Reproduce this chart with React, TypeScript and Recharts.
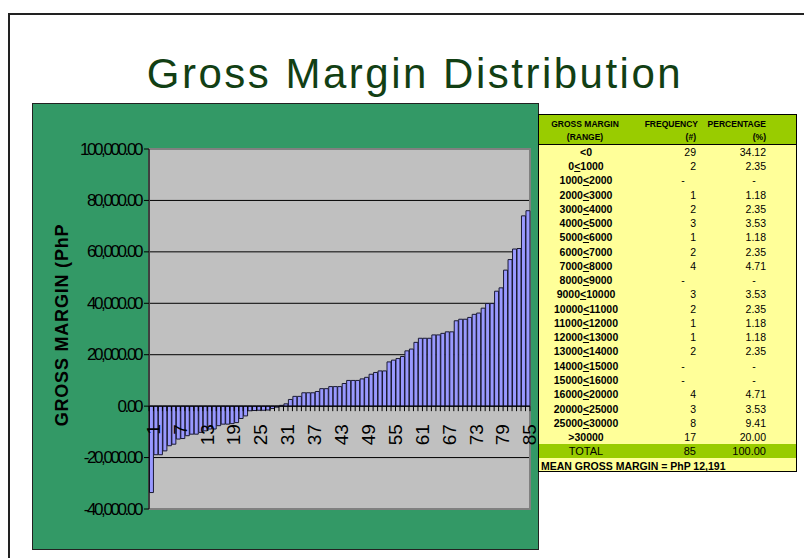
import {
  BarChart, Bar, XAxis, YAxis, CartesianGrid,
  ReferenceLine, ReferenceArea,
} from 'recharts'

// gross margin per farm (PhP), sorted ascending
const GM_VALUES = [
  -33600, -18900, -18900, -17400, -15400, -14800, -12800, -12600, -11500, -10900,
  -10900, -10200, -9600, -8900, -8900, -7600, -7000, -7000, -6800, -6400,
  -4800, -3800, -1800, -1700, -1600, -1600, -1500, -900, -400, 300,
  900, 2600, 3800, 3800, 5200, 5200, 5200, 5700, 6800, 6800,
  7600, 7600, 7600, 8800, 10000, 10000, 10000, 10600, 11200, 12400,
  13100, 13700, 13700, 17200, 17900, 18500, 19300, 21500, 22200, 24800,
  26400, 26400, 26400, 27700, 27700, 28300, 28900, 28900, 33200, 33800,
  33800, 34500, 35700, 36200, 38100, 39900, 39900, 44700, 46000, 52900,
  57000, 61100, 61300, 74000, 76000,
]
const FARMS = GM_VALUES.map((_, i) => i + 1)
const Y_TICKS = [-40000, -20000, 0, 20000, 40000, 60000, 80000, 100000]
const GRID_VALUES = [-20000, 0, 20000, 40000, 60000, 80000]
const X_LABEL_STEP = 6

const RANGES = [
  '<0', '0≤1000', '1000≤2000', '2000≤3000', '3000≤4000', '4000≤5000',
  '5000≤6000', '6000≤7000', '7000≤8000', '8000≤9000', '9000≤10000',
  '10000≤11000', '11000≤12000', '12000≤13000', '13000≤14000', '14000≤15000',
  '15000≤16000', '16000≤20000', '20000≤25000', '25000≤30000', '>30000',
]
const FREQ = [29, 2, null, 1, 2, 3, 1, 2, 4, null, 3, 2, 1, 1, 2, null, null, 4, 3, 8, 17]
const PCT = ['34.12', '2.35', null, '1.18', '2.35', '3.53', '1.18', '2.35', '4.71', null,
  '3.53', '2.35', '1.18', '1.18', '2.35', null, null, '4.71', '3.53', '9.41', '20.00']
const TOTAL_FREQ = '85'
const TOTAL_PCT = '100.00'
const MEAN_TEXT = 'MEAN GROSS MARGIN = PhP 12,191'

const BLUE = '#9999FF'
const GREEN = '#339966'
const PLOT_GRAY = '#C0C0C0'
const HEAD_GREEN = '#99CC00'
const PALE_YELLOW = '#FFFF99'
const FONT = '"Liberation Sans", Arial, sans-serif'

const CHART_W = 505
const CHART_H = 445
const MARGIN = { top: 45, right: 8, bottom: 10, left: 0 }
const X_AXIS_H = 30
const Y_AXIS_W = 116
const Y_MIN = -40000
const Y_MAX = 100000
const PLOT_W = CHART_W - MARGIN.left - MARGIN.right - Y_AXIS_W
const PLOT_H = CHART_H - MARGIN.top - MARGIN.bottom - X_AXIS_H
const ZERO_Y = MARGIN.top + PLOT_H * Y_MAX / (Y_MAX - Y_MIN)

const data = FARMS.map((farm, i) => ({ farm, gm: GM_VALUES[i] }))

const fmt = (v: number) => v.toLocaleString('en-US', { minimumFractionDigits: 2 })

function YTick({ x, y, payload }: any) {
  return (
    <text x={x} y={y} textAnchor="end" dominantBaseline="central"
      fontSize={17} fontFamily={FONT} fill="#000" letterSpacing={-2.4}>
      {fmt(payload.value)}
    </text>
  )
}

function XTick({ x, payload }: any) {
  const band = PLOT_W / FARMS.length
  const ty = ZERO_Y + 18
  const isLast = payload.value === FARMS[FARMS.length - 1]
  const showLabel = (payload.value - 1) % X_LABEL_STEP === 0
  return (
    <g>
      <line x1={x - band / 2} x2={x - band / 2} y1={ZERO_Y} y2={ZERO_Y + 5} stroke="#000" />
      {isLast && (
        <line x1={x + band / 2} x2={x + band / 2} y1={ZERO_Y} y2={ZERO_Y + 5} stroke="#000" />
      )}
      {showLabel && (
        <text x={x} y={ty} transform={`rotate(-90 ${x} ${ty})`} textAnchor="end"
          dy="0.45em" fontSize={19} fontFamily={FONT} fill="#000">
          {payload.value}
        </text>
      )}
    </g>
  )
}

function YTitle() {
  const cx = 29
  const cy = MARGIN.top + PLOT_H / 2 - 4
  return (
    <text x={cx} y={cy} transform={`rotate(-90 ${cx} ${cy})`} textAnchor="middle"
      dominantBaseline="central" fontSize={18} fontWeight="bold" fontFamily={FONT}
      letterSpacing={0.8} fill="#000">
      GROSS MARGIN (PhP
    </text>
  )
}

function RangeLabel({ text }: { text: string }) {
  const parts = text.split('≤')
  if (parts.length === 1) return <>{text}</>
  return <>{parts[0]}<span style={{ textDecoration: 'underline' }}>{'<'}</span>{parts[1]}</>
}

const TABLE_LEFT = 538
const TABLE_TOP = 114
const TABLE_W = 259
const TABLE_H = 358
const ROW0 = 36.7
const ROW_STEP = 14.27

function TCell({ cy, children, align, at, bold, size = 10.5 }: any) {
  const base: any = {
    position: 'absolute', top: cy - 7, height: 14, lineHeight: '14px',
    fontSize: size, fontWeight: bold ? 'bold' : 'normal', whiteSpace: 'nowrap', color: '#000',
  }
  if (align === 'right') return <div style={{ ...base, right: TABLE_W - at, textAlign: 'right' }}>{children}</div>
  if (align === 'left') return <div style={{ ...base, left: at }}>{children}</div>
  return <div style={{ ...base, left: at - 60, width: 120, textAlign: 'center' }}>{children}</div>
}

function FreqTable() {
  return (
    <div style={{
      position: 'absolute', left: TABLE_LEFT, top: TABLE_TOP, width: TABLE_W, height: TABLE_H,
      background: PALE_YELLOW, border: '1px solid #000', boxSizing: 'border-box', fontFamily: FONT,
    }}>
      <div style={{ position: 'absolute', left: 0, top: 0, width: '100%', height: 29, background: HEAD_GREEN, borderBottom: '1px solid #000' }} />
      <div style={{ position: 'absolute', left: 0, top: 329, width: '100%', height: 14, background: HEAD_GREEN }} />
      <TCell cy={9} at={46} bold size={8.5}>GROSS MARGIN</TCell>
      <TCell cy={22} at={46} bold size={8.5}>(RANGE)</TCell>
      <TCell cy={9} at={161} align="right" bold size={8.5}>FREQUENCY</TCell>
      <TCell cy={22} at={159} align="right" bold size={8.5}>(#)</TCell>
      <TCell cy={9} at={229} align="right" bold size={8.5}>PERCENTAGE</TCell>
      <TCell cy={22} at={229} align="right" bold size={8.5}>(%)</TCell>
      {RANGES.map((r, i) => {
        const cy = ROW0 + i * ROW_STEP
        return (
          <div key={r}>
            <TCell cy={cy} at={47} bold><RangeLabel text={r} /></TCell>
            {FREQ[i] === null
              ? <TCell cy={cy} at={144}>-</TCell>
              : <TCell cy={cy} at={159} align="right">{FREQ[i]}</TCell>}
            {PCT[i] === null
              ? <TCell cy={cy} at={215}>-</TCell>
              : <TCell cy={cy} at={229} align="right">{PCT[i]}</TCell>}
          </div>
        )
      })}
      <TCell cy={336.3} at={47} size={11}>TOTAL</TCell>
      <TCell cy={336.3} at={159} align="right" size={11}>{TOTAL_FREQ}</TCell>
      <TCell cy={336.3} at={229} align="right" size={11}>{TOTAL_PCT}</TCell>
      <TCell cy={351} at={2} align="left" bold>{MEAN_TEXT}</TCell>
    </div>
  )
}

export default function App() {
  return (
    <div style={{ position: 'fixed', left: 0, top: 0, width: 804, height: 558, background: '#fff', overflow: 'hidden', fontFamily: FONT }}>
      <div style={{ position: 'absolute', left: 8, top: 13, width: 900, height: 600, border: '2px solid #222' }} />
      <div style={{
        position: 'absolute', left: 0, top: 53, width: 830, textAlign: 'center',
        fontSize: 42, lineHeight: '42px', letterSpacing: 2.5, color: '#123F14',
      }}>
        Gross Margin Distribution
      </div>
      <div style={{ position: 'absolute', left: 33, top: 104, width: CHART_W, height: CHART_H, background: GREEN, outline: '1px solid #222' }}>
        <BarChart width={CHART_W} height={CHART_H} data={data} margin={MARGIN} barCategoryGap="10%">
          <CartesianGrid vertical={false} horizontalValues={GRID_VALUES} stroke="#000" fill={PLOT_GRAY} fillOpacity={1} />
          <XAxis dataKey="farm" height={X_AXIS_H} interval={0} axisLine={false} tickLine={false} tick={<XTick />} />
          <YAxis
            width={Y_AXIS_W} domain={[Y_MIN, Y_MAX]} ticks={Y_TICKS} interval={0}
            axisLine={{ stroke: '#000' }} tickLine={{ stroke: '#000' }} tickSize={5} tickMargin={3}
            tick={<YTick />} label={<YTitle />}
          />
          <ReferenceArea y1={Y_MIN} y2={Y_MAX} fill="none" stroke="#808080" strokeWidth={2} ifOverflow="visible" />
          <ReferenceLine y={0} stroke="#000" />
          <Bar dataKey="gm" fill={BLUE} stroke="#1a1a33" strokeWidth={1} isAnimationActive={false} />
        </BarChart>
      </div>
      <FreqTable />
    </div>
  )
}
